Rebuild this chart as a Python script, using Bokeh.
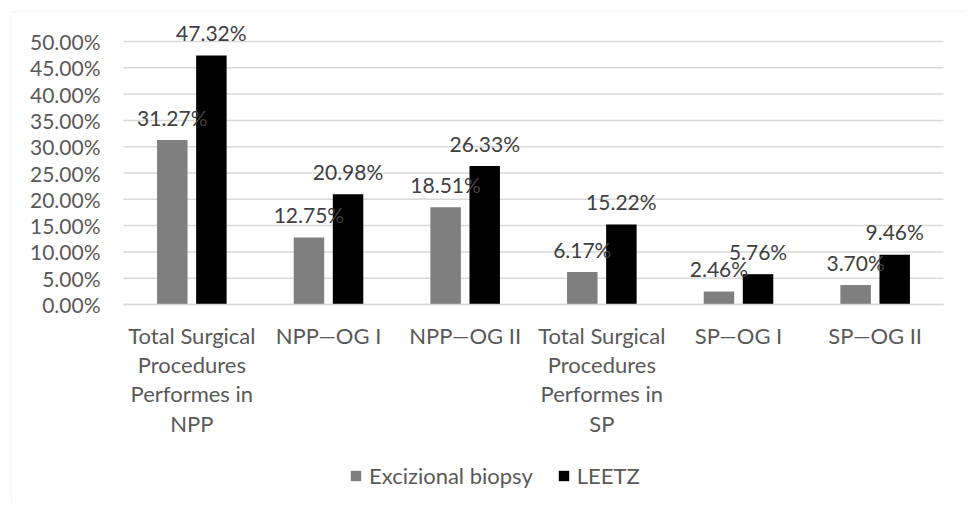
import numpy as np
from bokeh.plotting import figure
from bokeh.models import (ColumnDataSource, LabelSet, Range1d, FixedTicker, PrintfTickFormatter,
                          Legend, LegendItem, BoxAnnotation, Node)
from bokeh.core.properties import value
from bokeh.embed import file_html
from bokeh.resources import INLINE

categories = [
    "Total Surgical\nProcedures\nPerformes in\nNPP",
    "NPP\u2014OG I",
    "NPP\u2014OG II",
    "Total Surgical\nProcedures\nPerformes in\nSP",
    "SP\u2014OG I",
    "SP\u2014OG II",
]
excizional = [31.27, 12.75, 18.51, 6.17, 2.46, 3.70]
leetz = [47.32, 20.98, 26.33, 15.22, 5.76, 9.46]
series_names = ["Excizional biopsy", "LEETZ"]
y_ticks = [0, 5, 10, 15, 20, 25, 30, 35, 40, 45, 50]

FONT = "Lato"
off = 0.143
bw = 0.223

xc = np.arange(len(categories), dtype=float)
source = ColumnDataSource(dict(
    x_exc=xc - off,
    x_leetz=xc + off,
    exc=excizional,
    leetz=leetz,
    exc_lbl=[f"{v:.2f}%" for v in excizional],
    leetz_lbl=[f"{v:.2f}%" for v in leetz],
))

# frame covers the whole canvas; category slots span -0.5 .. n-0.5
x_lo, x_hi = -0.5, len(categories) - 0.5
W, H = 966, 503
px_x = 820 / len(categories)
px_y = 263 / 50
x_range = Range1d(x_lo - 123 / px_x, x_hi + (W - 943) / px_x)
y_range = Range1d(0 - (H - 304) / px_y, 50 + 41 / px_y)

p = figure(
    x_range=x_range, y_range=y_range,
    width=W, height=H,
    output_backend="svg", toolbar_location=None,
    min_border=0,
)
p.outline_line_color = None
p.background_fill_color = "white"
p.border_fill_color = "white"
p.xgrid.visible = False
p.ygrid.visible = False

# chart-area border (top and left visible, right/bottom run off the page)
frame_box = BoxAnnotation(
    left=Node(target="canvas", symbol="left", offset=11),
    top=Node(target="canvas", symbol="top", offset=11),
    right=Node(target="canvas", symbol="right", offset=10),
    bottom=Node(target="canvas", symbol="bottom", offset=10),
    fill_alpha=0, line_color="#d9d9d9", line_width=1, level="underlay",
    editable=False,
)
p.add_layout(frame_box)

# horizontal gridlines across the plot area
p.segment(x0=x_lo, x1=x_hi, y0=y_ticks, y1=y_ticks, line_color="#d9d9d9",
          line_width=1.5, level="underlay")

r1 = p.vbar(x="x_exc", top="exc", width=bw, source=source,
            fill_color="#7f7f7f", line_color=None)
r2 = p.vbar(x="x_leetz", top="leetz", width=bw, source=source,
            fill_color="#000000", line_color=None)

for xf, fld, lbl in (("x_exc", "exc", "exc_lbl"), ("x_leetz", "leetz", "leetz_lbl")):
    ls = LabelSet(x=xf, y=fld, text=lbl, source=source,
                  text_align="center", text_baseline="middle", y_offset=23,
                  text_font=value(FONT), text_font_size="21px", text_color="#404040")
    p.add_layout(ls)

# axes
p.yaxis.fixed_location = x_lo
p.yaxis.ticker = FixedTicker(ticks=y_ticks)
p.yaxis.formatter = PrintfTickFormatter(format="%.2f%%")
p.yaxis.axis_line_color = None
p.yaxis.major_tick_line_color = None
p.yaxis.minor_tick_line_color = None
p.yaxis.major_label_text_font = FONT
p.yaxis.major_label_text_font_size = "21px"
p.yaxis.major_label_text_color = "#595959"
p.yaxis.major_label_standoff = 17

p.xaxis.fixed_location = 0
p.xaxis.bounds = (x_lo, x_hi)
p.xaxis.ticker = FixedTicker(ticks=list(xc))
p.xaxis.major_label_overrides = {float(i): c for i, c in enumerate(categories)}
p.xaxis.axis_line_color = "#d9d9d9"
p.xaxis.axis_line_width = 1.5
p.xaxis.major_tick_line_color = None
p.xaxis.minor_tick_line_color = None
p.xaxis.major_label_text_font = FONT
p.xaxis.major_label_text_font_size = "22px"
p.xaxis.major_label_text_line_height = 1.09
p.xaxis.major_label_text_color = "#595959"
p.xaxis.major_label_standoff = 11

# legend
lg = Legend(items=[LegendItem(label=series_names[0], renderers=[r1]),
                   LegendItem(label=series_names[1], renderers=[r2])])
lg.orientation = "horizontal"
lg.location = (349, 14)
lg.border_line_color = None
lg.background_fill_alpha = 0
lg.padding = 0
lg.margin = 0
lg.spacing = 24
lg.glyph_width = 13
lg.glyph_height = 13
lg.label_standoff = 7
lg.label_text_font = FONT
lg.label_text_font_size = "22px"
lg.label_text_color = "#595959"
lg.label_height = 20
p.add_layout(lg, "center")

open("out.html", "w").write(file_html(p, INLINE))
